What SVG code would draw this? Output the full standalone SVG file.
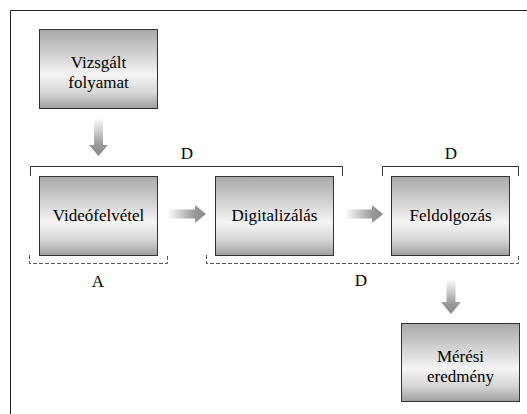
<svg xmlns="http://www.w3.org/2000/svg" width="527" height="414" viewBox="0 0 527 414">
<defs>
<linearGradient id="box" x1="0" y1="0" x2="0" y2="1">
<stop offset="0" stop-color="#a8a8a8"/>
<stop offset="0.58" stop-color="#f4f4f4"/>
<stop offset="0.8" stop-color="#d6d6d6"/>
<stop offset="1" stop-color="#9e9e9e"/>
</linearGradient>
<linearGradient id="ah" x1="0" y1="0" x2="1" y2="0">
<stop offset="0" stop-color="#ffffff"/>
<stop offset="0.7" stop-color="#9a9a9a"/>
<stop offset="1" stop-color="#888888"/>
</linearGradient>
<linearGradient id="av" x1="0" y1="0" x2="0" y2="1">
<stop offset="0" stop-color="#ffffff"/>
<stop offset="0.7" stop-color="#9a9a9a"/>
<stop offset="1" stop-color="#888888"/>
</linearGradient>
</defs>
<style>
.box{fill:url(#box);stroke:#333;stroke-width:1}
text{font-family:'Liberation Serif','Times New Roman',serif;font-size:17px;fill:#000;text-anchor:middle}
.br{fill:none;stroke:#333;stroke-width:1}
.dbr{fill:none;stroke:#555;stroke-width:1;stroke-dasharray:4 2}
</style>
<rect width="527" height="414" fill="#fff"/>
<path d="M10.5 414 V10.5 H527" fill="none" stroke="#222" stroke-width="1"/>

<g id="n-vizsgalt">
<rect class="box" x="39.5" y="29.5" width="118" height="79"/>
<text x="98.5" y="68">Vizsgált</text>
<text x="98.5" y="88">folyamat</text>
</g>
<g id="n-video">
<rect class="box" x="39.5" y="176.5" width="118" height="79"/>
<text x="98.5" y="221">Videófelvétel</text>
</g>
<g id="n-digit">
<rect class="box" x="215.5" y="176.5" width="118" height="79"/>
<text x="274.5" y="221">Digitalizálás</text>
</g>
<g id="n-feld">
<rect class="box" x="391.5" y="176.5" width="118" height="79"/>
<text x="450.5" y="221">Feldolgozás</text>
</g>
<g id="n-meres">
<rect class="box" x="401.5" y="323.5" width="118" height="78"/>
<text x="460.5" y="362">Mérési</text>
<text x="460.5" y="382">eredmény</text>
</g>

<g id="connectors">
<polygon points="94,118 103,118 103,145 108,145 98.5,156 89,145 94,145" fill="url(#av)"/>
<polygon points="167,209.5 195,209.5 195,205 206,214 195,223 195,218.5 167,218.5" fill="url(#ah)"/>
<polygon points="345,209.5 372,209.5 372,205 383,214 372,223 372,218.5 345,218.5" fill="url(#ah)"/>
<polygon points="446.5,279 455.5,279 455.5,302 461,302 451,314 441,302 446.5,302" fill="url(#av)"/>
</g>

<g id="brackets">
<path class="br" d="M30.5 176 V166.5 H342.5 V176"/>
<text x="187" y="159">D</text>
<path class="br" d="M382.5 176 V166.5 H518.5 V176"/>
<text x="451" y="159">D</text>
<path class="dbr" d="M29.5 255 V263.5 H167.5 V255"/>
<text x="98" y="287">A</text>
<path class="dbr" d="M206.5 255 V263.5 H518.5 V255"/>
<text x="361" y="286">D</text>
</g>
</svg>
